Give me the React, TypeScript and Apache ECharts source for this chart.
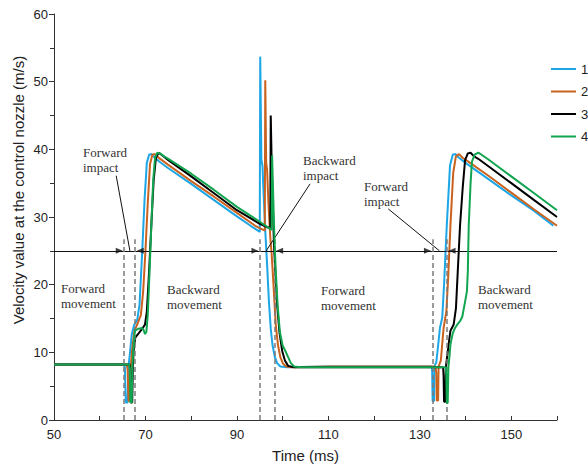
import React, { useEffect, useRef } from 'react';
import * as echarts from 'echarts';

// ---------- data (time ms, velocity m/s) ----------
const seriesNames = ['1', '2', '3', '4'];

const curve1: [number, number][] = [
  [50, 8.2], [65.2, 8.2], [65.5, 7.8], [65.7, 2.6], [66.1, 2.6], [66.3, 8.0], [66.6, 9.8], [67.0, 12.6],
  [67.5, 14.0], [68.2, 14.8], [68.7, 17], [69.3, 25], [69.8, 32.5], [70.3, 38.0], [70.8, 39.2], [71.3, 39.3],
  [72, 38.8], [73, 38.2], [75, 37.2], [80, 34.9], [85, 32.5], [90, 30.1], [93, 28.7], [95.0, 27.8],
  [95.1, 53.7], [95.35, 38.5], [95.6, 37.5], [95.8, 34], [96.2, 28], [96.6, 23], [97.0, 17.5], [97.4, 13.5],
  [97.8, 11.0], [98.3, 9.3], [98.8, 8.4], [99.5, 7.9], [101, 7.8], [110, 7.9], [120, 7.9], [130, 7.9],
  [132.6, 7.9], [132.7, 7.2], [132.8, 2.8], [133.1, 2.8], [133.2, 8.0], [133.6, 8.5], [134.0, 11], [134.4, 13.6],
  [134.9, 15.1], [135.3, 20], [135.9, 28.8], [136.6, 37.6], [137.2, 39.2], [137.8, 39.3], [138.5, 38.8],
  [140, 38.0], [145, 35.6], [150, 33.2], [155, 30.9], [159.2, 28.7]
];

const curve2: [number, number][] = [
  [50, 8.2], [65.9, 8.2], [66.1, 7.5], [66.3, 2.8], [66.6, 2.8], [66.8, 8.0], [67.1, 10.5], [67.6, 13.2],
  [68.3, 14.3], [69.0, 15.5], [69.5, 19], [70.0, 25], [70.5, 32], [71.0, 37.8], [71.5, 39.2], [72.0, 39.3],
  [73, 38.7], [75, 37.7], [80, 35.3], [85, 33.0], [90, 30.6], [94, 28.7], [96.1, 28.0], [96.2, 50.2],
  [96.4, 38], [96.6, 37], [96.9, 32], [97.3, 27], [97.6, 24.5], [98.0, 20], [98.5, 14], [99.0, 11],
  [99.5, 9.3], [100.1, 8.3], [100.8, 7.9], [102, 7.8], [110, 7.9], [120, 7.9], [130, 7.9], [133.4, 7.9],
  [133.6, 7.0], [133.7, 2.9], [134.0, 2.9], [134.1, 7.9], [134.6, 8.8], [135.2, 13.6], [135.8, 16],
  [136.2, 21], [136.7, 28.8], [137.3, 36.5], [137.9, 39.0], [138.6, 39.3], [139.3, 38.8], [141, 38.0],
  [145, 36.1], [150, 33.6], [155, 31.1], [160, 28.7]
];

const curve3: [number, number][] = [
  [50, 8.2], [66.5, 8.2], [66.7, 7.5], [66.85, 2.6], [67.1, 2.6], [67.25, 8.0], [67.5, 11], [67.8, 12.2],
  [68.5, 12.8], [69.3, 13.5], [69.9, 14.1], [70.3, 16], [70.8, 22], [71.3, 29], [71.8, 35.5], [72.3, 38.8],
  [72.9, 39.5], [73.5, 39.2], [75, 38.4], [80, 36.0], [85, 33.5], [90, 31.0], [95, 29.0], [97.3, 28.3],
  [97.4, 45.0], [97.6, 38], [97.8, 33], [98.1, 26], [98.4, 22], [98.8, 17], [99.3, 13], [99.9, 10.2],
  [100.5, 8.8], [101.2, 8.0], [102.5, 7.8], [110, 7.8], [120, 7.8], [130, 7.8], [135.1, 7.8], [135.2, 6.5],
  [135.3, 2.7], [135.6, 2.7], [135.7, 7.8], [136.0, 9.5], [136.3, 11.2], [136.7, 13.2], [137.4, 14.1],
  [137.9, 16.5], [138.3, 22], [138.8, 28.8], [139.4, 34.5], [139.9, 38.4], [140.5, 39.4], [141.1, 39.5],
  [141.8, 39.0], [143, 38.5], [145, 37.5], [150, 35.0], [155, 32.5], [160, 30.0]
];

const curve4: [number, number][] = [
  [50, 8.2], [66.4, 8.2], [66.6, 7.6], [66.7, 2.6], [67.0, 2.6], [67.15, 8.0], [67.4, 11], [67.7, 13.2],
  [68.5, 13.5], [69.2, 13.6], [69.6, 13.3], [69.9, 12.7], [70.2, 13.0], [70.5, 15.5], [70.9, 22], [71.3, 29],
  [71.7, 35.5], [72.1, 38.8], [72.6, 39.5], [73.2, 39.4], [74, 39.0], [75, 38.6], [80, 36.4], [85, 34.0],
  [90, 31.5], [95, 29.3], [97.6, 28.1], [97.7, 39.1], [97.9, 34], [98.2, 27], [98.5, 22], [98.9, 17],
  [99.4, 13], [100, 11], [100.6, 10.2], [101.2, 9.3], [101.8, 8.4], [102.5, 7.9], [104, 7.8], [110, 7.8],
  [120, 7.8], [130, 7.8], [135.7, 7.8], [135.8, 6.5], [135.9, 2.5], [136.1, 2.5], [136.25, 7.8], [136.5, 9.5],
  [136.7, 11.2], [137.2, 12.8], [137.7, 13.6], [138.3, 14.2], [138.8, 14.6], [139.3, 15.3], [139.9, 17.5],
  [140.3, 19], [140.5, 22], [140.7, 28.8], [141.1, 35], [141.4, 38.2], [142, 39.2], [142.8, 39.5],
  [143.5, 39.2], [145, 38.5], [150, 36.0], [155, 33.5], [160, 31.0]
];

const curves = [curve1, curve2, curve3, curve4];
const colors = ['#1DA6E6', '#C9621F', '#000000', '#12A550'];

// axis ticks
const xMin = 50, xMax = 160, xStep = 10;
const xLabelValues = [50, 70, 90, 110, 130, 150];
const yMin = 0, yMax = 60, yStep = 10;

// annotations (data units)
const referenceLevel = 25;
const impactBounds = [65.16, 67.72, 95.08, 98.21, 132.78, 135.93];
const dashTop = 26.7;
const pointerLines: [number, number][][] = [
  [[63.6, 36.1], [66.6, 25]],
  [[106.0, 34.9], [96.4, 25]],
  [[123.1, 31.2], [134.3, 25]]
];
const arrowsRight = [64.27, 93.94, 131.66];
const arrowsLeft = [68.86, 99.34, 137.05];

const annotationTexts = [
  { text: 'Forward\nimpact', x: 83, y: 144.5 },
  { text: 'Forward\nmovement', x: 61, y: 280.5 },
  { text: 'Backward\nmovement', x: 167, y: 281.5 },
  { text: 'Backward\nimpact', x: 303, y: 152.5 },
  { text: 'Forward\nmovement', x: 321, y: 282.5 },
  { text: 'Forward\nimpact', x: 364, y: 178.5 },
  { text: 'Backward\nmovement', x: 478, y: 281.5 }
];

const yAxisTitle = 'Velocity value at the control nozzle (m/s)';
const xAxisTitle = 'Time (ms)';

const SANS = '"Liberation Sans", Arial, Helvetica, sans-serif';
const SERIF = '"Liberation Serif", "Times New Roman", serif';

export default function App() {
  const ref = useRef<HTMLDivElement>(null);

  useEffect(() => {
    document.body.style.margin = '0';
    if (!ref.current) return;
    const chart = echarts.init(ref.current, null, { renderer: 'svg' });

    const lineSeries = curves.map((d, i) => ({
      name: seriesNames[i],
      type: 'line',
      data: d,
      symbol: 'none',
      showSymbol: false,
      lineStyle: { color: colors[i], width: 2 },
      itemStyle: { color: colors[i] },
      z: 2 + i,
      silent: true
    }));

    const markData: any[] = [
      [{ coord: [xMin, referenceLevel] }, { coord: [xMax, referenceLevel] }],
      ...pointerLines.map((p) => [{ coord: p[0] }, { coord: p[1] }]),
      ...impactBounds.map((x) => [
        { coord: [x, yMin], lineStyle: { color: '#7a7a7a', width: 1.5, type: [5, 3] } },
        { coord: [x, dashTop] }
      ])
    ];

    const option: any = {
      animation: false,
      grid: { left: 54, right: 31, top: 14, bottom: 45, containLabel: false },
      legend: {
        orient: 'vertical',
        left: 546,
        top: 57,
        icon: 'rect',
        itemWidth: 25,
        itemHeight: 2,
        itemGap: 8.5,
        data: seriesNames,
        textStyle: { fontSize: 13, color: '#222', fontFamily: SANS, lineHeight: 14 },
        selectedMode: false
      },
      xAxis: {
        type: 'value',
        min: xMin,
        max: xMax,
        interval: xStep,
        name: xAxisTitle,
        nameLocation: 'middle',
        nameGap: 28,
        nameTextStyle: { fontSize: 15, color: '#222', fontFamily: SANS },
        axisLine: { show: true, lineStyle: { color: '#333', width: 1 } },
        axisTick: { show: true, inside: true, length: 4, lineStyle: { color: '#333' } },
        axisLabel: {
          color: '#222',
          fontSize: 13,
          fontFamily: SANS,
          margin: 8,
          formatter: (v: number) => (xLabelValues.includes(v) ? String(v) : '')
        },
        splitLine: { show: false }
      },
      yAxis: {
        type: 'value',
        min: yMin,
        max: yMax,
        interval: yStep,
        axisLine: { show: true, lineStyle: { color: '#333', width: 1 } },
        axisTick: { show: true, length: 5, lineStyle: { color: '#333' } },
        minorTick: { show: true, splitNumber: 2, length: 4, lineStyle: { color: '#333' } },
        axisLabel: { color: '#222', fontSize: 13, fontFamily: SANS, margin: 6 },
        splitLine: { show: false }
      },
      series: [
        ...lineSeries,
        {
          name: 'annotations',
          type: 'line',
          data: [],
          silent: true,
          z: 1,
          markLine: {
            silent: true,
            symbol: ['none', 'none'],
            label: { show: false },
            emphasis: { disabled: true },
            lineStyle: { color: '#111', width: 1, type: 'solid' },
            data: markData
          }
        },
        {
          name: 'arrowR',
          type: 'scatter',
          silent: true,
          data: arrowsRight.map((x) => [x, referenceLevel]),
          symbol: 'triangle',
          symbolSize: [6, 7],
          symbolRotate: -90,
          itemStyle: { color: '#111' },
          z: 10
        },
        {
          name: 'arrowL',
          type: 'scatter',
          silent: true,
          data: arrowsLeft.map((x) => [x, referenceLevel]),
          symbol: 'triangle',
          symbolSize: [6, 7],
          symbolRotate: 90,
          itemStyle: { color: '#111' },
          z: 10
        }
      ],
      graphic: [
        {
          type: 'text',
          x: 18,
          y: 190,
          rotation: Math.PI / 2,
          silent: true,
          style: {
            text: yAxisTitle,
            fill: '#222',
            fontSize: 15,
            fontFamily: SANS,
            align: 'center',
            verticalAlign: 'middle'
          }
        },
        ...annotationTexts.map((t) => ({
          type: 'text',
          x: t.x,
          y: t.y,
          silent: true,
          z: 20,
          style: {
            text: t.text,
            fill: '#333',
            fontSize: 13,
            lineHeight: 15,
            fontFamily: SERIF,
            align: 'left',
            verticalAlign: 'top'
          }
        }))
      ]
    };

    chart.setOption(option);
    return () => chart.dispose();
  }, []);

  return <div ref={ref} style={{ width: 588, height: 468 }} />;
}
